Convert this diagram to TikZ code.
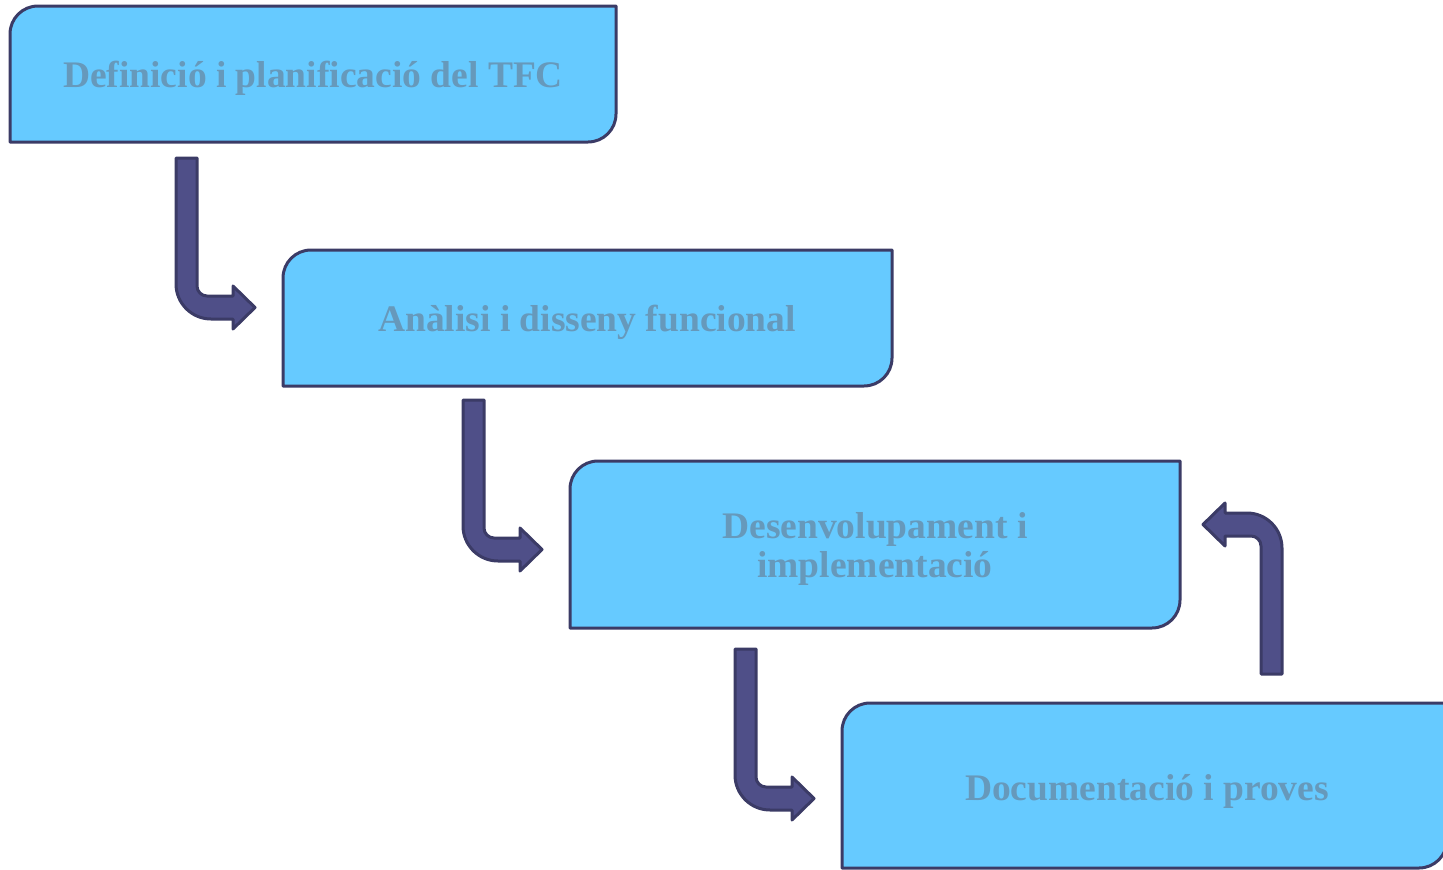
\documentclass[tikz,border=0pt]{standalone}
\usepackage{fontspec}
\setmainfont{Liberation Serif}
\usetikzlibrary{calc}
\definecolor{boxfill}{HTML}{66CAFF}
\definecolor{boxline}{HTML}{3B3B66}
\definecolor{txt}{HTML}{6699BB}
\definecolor{arrfill}{HTML}{4F4F88}
\definecolor{arrline}{HTML}{3B3B66}
\newcommand\stepshape[4]{%
  \draw[stepbox] (#1,#4) -- (#1,#2+28) .. controls (#1,#2+12.5) and (#1+12.5,#2) .. (#1+28,#2)
    -- (#3,#2) -- (#3,#4-28) .. controls (#3,#4-12.5) and (#3-12.5,#4) .. (#3-28,#4) -- cycle;}
\begin{document}
\begin{tikzpicture}[x=1pt,y=-1pt,
  stepbox/.style={fill=boxfill, draw=boxline, line width=3pt, line join=round},
  steptext/.style={text=txt, font=\fontsize{37.5}{39}\selectfont\bfseries, align=center, inner sep=0pt},
  bentarrow/.pic={
    \draw[fill=arrfill, draw=arrline, line width=3pt, line join=round]
      (0,0) -- (21,0) -- (21,128) .. controls (21,133.5) and (25.5,138) .. (31,138)
      -- (57,138) -- (57,128) -- (79,149.5) -- (57,171) -- (57,161) -- (35,161)
      .. controls (15.7,161) and (0,145.3) .. (0,126) -- cycle;
  }]
\useasboundingbox (0,0) rectangle (1443,870);
\stepshape{10}{6}{616}{142}
\stepshape{283}{250}{892}{386}
\stepshape{570}{461}{1180}{628}
\stepshape{842}{703}{1447}{868}
\node[steptext, anchor=base] (n1) at (313,87) {Definició i planificació del TFC};
\node[steptext, anchor=base] (n2) at (587,331) {Anàlisi i disseny funcional};
\node[steptext, anchor=base] (n3) at (875,577) {Desenvolupament i\\implementació};
\node[steptext, anchor=base] (n4) at (1147,800) {Documentació i proves};
\pic at (176,158) {bentarrow};
\pic at (463,400) {bentarrow};
\pic at (735,649) {bentarrow};
\pic[rotate=180] at (1282,674) {bentarrow};
\end{tikzpicture}
\end{document}
